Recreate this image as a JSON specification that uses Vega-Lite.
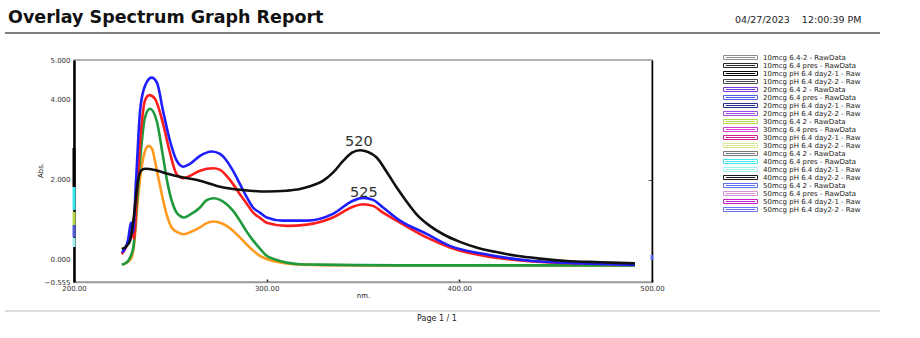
{
  "$schema": "https://vega.github.io/schema/vega-lite/v6.json",
  "width": 578,
  "height": 222,
  "autosize": {"type": "none"},
  "padding": {"left": 74, "top": 60, "right": 268, "bottom": 56},
  "background": "white",
  "config": {
    "font": "DejaVu Sans",
    "view": {"stroke": "#9a9a9a", "strokeWidth": 1.5}
  },
  "title": {
    "text": "Overlay Spectrum Graph Report",
    "anchor": "start",
    "frame": "group",
    "offset": 0,
    "dx": -66,
    "dy": 12,
    "font": "DejaVu Sans",
    "fontSize": 17.5,
    "fontWeight": "bold",
    "color": "#111111"
  },
  "datasets": {
    "spectra": [
      {"series": "Orange", "nm": 225.6, "abs": -0.11},
      {"series": "Orange", "nm": 228.0, "abs": -0.05},
      {"series": "Orange", "nm": 229.9, "abs": 0.06},
      {"series": "Orange", "nm": 231.1, "abs": 0.35},
      {"series": "Orange", "nm": 233.4, "abs": 1.64},
      {"series": "Orange", "nm": 236.0, "abs": 2.56},
      {"series": "Orange", "nm": 238.6, "abs": 2.85},
      {"series": "Orange", "nm": 240.5, "abs": 2.78},
      {"series": "Orange", "nm": 242.0, "abs": 2.48},
      {"series": "Orange", "nm": 244.1, "abs": 1.98},
      {"series": "Orange", "nm": 246.3, "abs": 1.48},
      {"series": "Orange", "nm": 248.3, "abs": 1.1},
      {"series": "Orange", "nm": 250.7, "abs": 0.81},
      {"series": "Orange", "nm": 254.1, "abs": 0.68},
      {"series": "Orange", "nm": 256.7, "abs": 0.64},
      {"series": "Orange", "nm": 260.2, "abs": 0.69},
      {"series": "Orange", "nm": 265.4, "abs": 0.81},
      {"series": "Orange", "nm": 268.5, "abs": 0.91},
      {"series": "Orange", "nm": 272.3, "abs": 0.96},
      {"series": "Orange", "nm": 275.8, "abs": 0.93},
      {"series": "Orange", "nm": 279.2, "abs": 0.85},
      {"series": "Orange", "nm": 282.5, "abs": 0.73},
      {"series": "Orange", "nm": 286.1, "abs": 0.56},
      {"series": "Orange", "nm": 289.3, "abs": 0.4},
      {"series": "Orange", "nm": 293.0, "abs": 0.23},
      {"series": "Orange", "nm": 296.5, "abs": 0.1},
      {"series": "Orange", "nm": 300.0, "abs": 0.02},
      {"series": "Orange", "nm": 310.4, "abs": -0.09},
      {"series": "Orange", "nm": 317.3, "abs": -0.12},
      {"series": "Orange", "nm": 343.2, "abs": -0.14},
      {"series": "Orange", "nm": 421.1, "abs": -0.14},
      {"series": "Orange", "nm": 491.1, "abs": -0.14},

      {"series": "Green", "nm": 224.8, "abs": -0.12},
      {"series": "Green", "nm": 227.0, "abs": -0.08},
      {"series": "Green", "nm": 229.1, "abs": 0.06},
      {"series": "Green", "nm": 230.8, "abs": 0.31},
      {"series": "Green", "nm": 232.2, "abs": 1.1},
      {"series": "Green", "nm": 234.3, "abs": 2.48},
      {"series": "Green", "nm": 236.8, "abs": 3.56},
      {"series": "Green", "nm": 239.4, "abs": 3.78},
      {"series": "Green", "nm": 242.9, "abs": 3.48},
      {"series": "Green", "nm": 246.3, "abs": 2.56},
      {"series": "Green", "nm": 248.3, "abs": 1.98},
      {"series": "Green", "nm": 250.7, "abs": 1.48},
      {"series": "Green", "nm": 253.0, "abs": 1.2},
      {"series": "Green", "nm": 255.0, "abs": 1.1},
      {"series": "Green", "nm": 257.1, "abs": 1.06},
      {"series": "Green", "nm": 260.2, "abs": 1.13},
      {"series": "Green", "nm": 265.4, "abs": 1.31},
      {"series": "Green", "nm": 268.5, "abs": 1.48},
      {"series": "Green", "nm": 272.3, "abs": 1.54},
      {"series": "Green", "nm": 275.8, "abs": 1.5},
      {"series": "Green", "nm": 279.2, "abs": 1.39},
      {"series": "Green", "nm": 282.5, "abs": 1.23},
      {"series": "Green", "nm": 286.1, "abs": 0.98},
      {"series": "Green", "nm": 289.3, "abs": 0.73},
      {"series": "Green", "nm": 293.0, "abs": 0.48},
      {"series": "Green", "nm": 296.5, "abs": 0.28},
      {"series": "Green", "nm": 300.0, "abs": 0.1},
      {"series": "Green", "nm": 304.8, "abs": 0.0},
      {"series": "Green", "nm": 310.4, "abs": -0.07},
      {"series": "Green", "nm": 317.3, "abs": -0.11},
      {"series": "Green", "nm": 325.9, "abs": -0.12},
      {"series": "Green", "nm": 369.2, "abs": -0.14},
      {"series": "Green", "nm": 421.1, "abs": -0.14},
      {"series": "Green", "nm": 491.1, "abs": -0.14},

      {"series": "Red", "nm": 224.8, "abs": 0.14},
      {"series": "Red", "nm": 228.0, "abs": 0.43},
      {"series": "Red", "nm": 229.9, "abs": 0.78},
      {"series": "Red", "nm": 231.1, "abs": 0.53},
      {"series": "Red", "nm": 232.7, "abs": 1.73},
      {"series": "Red", "nm": 234.8, "abs": 3.23},
      {"series": "Red", "nm": 236.8, "abs": 3.98},
      {"series": "Red", "nm": 239.1, "abs": 4.12},
      {"series": "Red", "nm": 242.0, "abs": 4.03},
      {"series": "Red", "nm": 246.3, "abs": 3.39},
      {"series": "Red", "nm": 249.8, "abs": 2.68},
      {"series": "Red", "nm": 253.3, "abs": 2.14},
      {"series": "Red", "nm": 256.7, "abs": 2.04},
      {"series": "Red", "nm": 260.2, "abs": 2.1},
      {"series": "Red", "nm": 265.4, "abs": 2.23},
      {"series": "Red", "nm": 272.3, "abs": 2.29},
      {"series": "Red", "nm": 275.8, "abs": 2.25},
      {"series": "Red", "nm": 279.2, "abs": 2.1},
      {"series": "Red", "nm": 282.5, "abs": 1.9},
      {"series": "Red", "nm": 286.1, "abs": 1.64},
      {"series": "Red", "nm": 289.3, "abs": 1.43},
      {"series": "Red", "nm": 293.0, "abs": 1.18},
      {"series": "Red", "nm": 296.5, "abs": 1.05},
      {"series": "Red", "nm": 300.0, "abs": 0.93},
      {"series": "Red", "nm": 310.4, "abs": 0.85},
      {"series": "Red", "nm": 320.8, "abs": 0.88},
      {"series": "Red", "nm": 334.4, "abs": 1.06},
      {"series": "Red", "nm": 344.9, "abs": 1.33},
      {"series": "Red", "nm": 350.1, "abs": 1.39},
      {"series": "Red", "nm": 355.2, "abs": 1.35},
      {"series": "Red", "nm": 360.4, "abs": 1.18},
      {"series": "Red", "nm": 369.2, "abs": 0.93},
      {"series": "Red", "nm": 383.0, "abs": 0.56},
      {"series": "Red", "nm": 395.1, "abs": 0.31},
      {"series": "Red", "nm": 412.4, "abs": 0.1},
      {"series": "Red", "nm": 438.2, "abs": -0.04},
      {"series": "Red", "nm": 464.1, "abs": -0.09},
      {"series": "Red", "nm": 491.1, "abs": -0.11},

      {"series": "Blue", "nm": 224.9, "abs": 0.18},
      {"series": "Blue", "nm": 228.0, "abs": 0.48},
      {"series": "Blue", "nm": 229.6, "abs": 0.93},
      {"series": "Blue", "nm": 230.6, "abs": 0.68},
      {"series": "Blue", "nm": 232.2, "abs": 1.98},
      {"series": "Blue", "nm": 234.3, "abs": 3.73},
      {"series": "Blue", "nm": 236.8, "abs": 4.35},
      {"series": "Blue", "nm": 240.3, "abs": 4.56},
      {"series": "Blue", "nm": 243.1, "abs": 4.43},
      {"series": "Blue", "nm": 246.2, "abs": 3.73},
      {"series": "Blue", "nm": 249.8, "abs": 2.98},
      {"series": "Blue", "nm": 253.3, "abs": 2.48},
      {"series": "Blue", "nm": 256.7, "abs": 2.33},
      {"series": "Blue", "nm": 260.2, "abs": 2.4},
      {"series": "Blue", "nm": 265.4, "abs": 2.6},
      {"series": "Blue", "nm": 271.5, "abs": 2.71},
      {"series": "Blue", "nm": 275.8, "abs": 2.65},
      {"series": "Blue", "nm": 279.2, "abs": 2.48},
      {"series": "Blue", "nm": 282.5, "abs": 2.23},
      {"series": "Blue", "nm": 286.1, "abs": 1.9},
      {"series": "Blue", "nm": 289.3, "abs": 1.6},
      {"series": "Blue", "nm": 292.9, "abs": 1.31},
      {"series": "Blue", "nm": 296.5, "abs": 1.18},
      {"series": "Blue", "nm": 300.0, "abs": 1.06},
      {"series": "Blue", "nm": 308.5, "abs": 0.98},
      {"series": "Blue", "nm": 320.8, "abs": 0.98},
      {"series": "Blue", "nm": 334.4, "abs": 1.15},
      {"series": "Blue", "nm": 344.8, "abs": 1.48},
      {"series": "Blue", "nm": 350.0, "abs": 1.55},
      {"series": "Blue", "nm": 355.2, "abs": 1.5},
      {"series": "Blue", "nm": 360.4, "abs": 1.31},
      {"series": "Blue", "nm": 369.2, "abs": 0.98},
      {"series": "Blue", "nm": 383.0, "abs": 0.65},
      {"series": "Blue", "nm": 395.1, "abs": 0.35},
      {"series": "Blue", "nm": 412.2, "abs": 0.15},
      {"series": "Blue", "nm": 438.2, "abs": -0.03},
      {"series": "Blue", "nm": 464.1, "abs": -0.09},
      {"series": "Blue", "nm": 491.1, "abs": -0.13},

      {"series": "Black", "nm": 224.8, "abs": 0.27},
      {"series": "Black", "nm": 227.0, "abs": 0.33},
      {"series": "Black", "nm": 229.1, "abs": 0.48},
      {"series": "Black", "nm": 231.1, "abs": 1.1},
      {"series": "Black", "nm": 233.2, "abs": 1.98},
      {"series": "Black", "nm": 234.8, "abs": 2.23},
      {"series": "Black", "nm": 236.8, "abs": 2.28},
      {"series": "Black", "nm": 242.0, "abs": 2.25},
      {"series": "Black", "nm": 248.1, "abs": 2.16},
      {"series": "Black", "nm": 256.7, "abs": 2.06},
      {"series": "Black", "nm": 265.4, "abs": 1.98},
      {"series": "Black", "nm": 274.1, "abs": 1.85},
      {"series": "Black", "nm": 282.7, "abs": 1.77},
      {"series": "Black", "nm": 291.3, "abs": 1.73},
      {"series": "Black", "nm": 300.0, "abs": 1.71},
      {"series": "Black", "nm": 310.4, "abs": 1.73},
      {"series": "Black", "nm": 317.3, "abs": 1.77},
      {"series": "Black", "nm": 322.5, "abs": 1.84},
      {"series": "Black", "nm": 329.4, "abs": 1.98},
      {"series": "Black", "nm": 334.4, "abs": 2.18},
      {"series": "Black", "nm": 339.8, "abs": 2.48},
      {"series": "Black", "nm": 344.3, "abs": 2.68},
      {"series": "Black", "nm": 348.4, "abs": 2.74},
      {"series": "Black", "nm": 352.6, "abs": 2.7},
      {"series": "Black", "nm": 357.1, "abs": 2.56},
      {"series": "Black", "nm": 361.9, "abs": 2.23},
      {"series": "Black", "nm": 367.5, "abs": 1.81},
      {"series": "Black", "nm": 372.3, "abs": 1.48},
      {"series": "Black", "nm": 377.8, "abs": 1.14},
      {"series": "Black", "nm": 384.7, "abs": 0.85},
      {"series": "Black", "nm": 391.6, "abs": 0.64},
      {"series": "Black", "nm": 400.3, "abs": 0.45},
      {"series": "Black", "nm": 408.9, "abs": 0.31},
      {"series": "Black", "nm": 418.5, "abs": 0.2},
      {"series": "Black", "nm": 429.7, "abs": 0.1},
      {"series": "Black", "nm": 441.8, "abs": 0.03},
      {"series": "Black", "nm": 455.7, "abs": -0.03},
      {"series": "Black", "nm": 473.0, "abs": -0.06},
      {"series": "Black", "nm": 491.1, "abs": -0.09}
    ],
    "offscale": [
      {"sample": "10mcg pH 6.4 day2-1 - Raw", "nm": 200, "abs": 2.8, "abs2": 1.82},
      {"sample": "40mcg 6.4 pres - RawData", "nm": 200, "abs": 1.82, "abs2": 1.25},
      {"sample": "30mcg 6.4 2 - RawData", "nm": 200, "abs": 1.2, "abs2": 0.87},
      {"sample": "20mcg 6.4 pres - RawData", "nm": 200, "abs": 0.87, "abs2": 0.57},
      {"sample": "40mcg pH 6.4 day2-1 - Raw", "nm": 200, "abs": 0.55, "abs2": 0.32},
      {"sample": "50mcg 6.4 2 - RawData", "nm": 500, "abs": 0.12, "abs2": 0.0}
    ],
    "peaks": [
      {"label": "520", "nm": 347.9, "abs": 2.85},
      {"label": "525", "nm": 350.5, "abs": 1.57}
    ]
  },
  "resolve": {
    "scale": {"color": "independent"},
    "legend": {"color": "independent"},
    "axis": {"y": "independent"}
  },
  "layer": [
    {
      "data": {"name": "offscale"},
      "mark": {"type": "rule", "strokeWidth": 3, "clip": false},
      "encoding": {
        "x": {
          "field": "nm",
          "type": "quantitative",
          "scale": {"domain": [200, 500], "nice": false, "zero": false},
          "axis": {
            "title": "nm.",
            "values": [200, 300, 400, 500],
            "format": ".2f",
            "labelFlush": false,
            "labelOverlap": false,
            "labelFontSize": 7,
            "labelColor": "#333333",
            "labelPadding": 5,
            "domainColor": "#9a9a9a",
            "domainWidth": 1.5,
            "tickSize": -3,
            "tickColor": "#222222",
            "tickWidth": 1.5,
            "grid": false,
            "titleFontSize": 7,
            "titleFontWeight": "normal",
            "titleColor": "#222222",
            "titleBaseline": "top",
            "titleY": 9
          }
        },
        "y": {
          "field": "abs",
          "type": "quantitative",
          "scale": {"domain": [-0.555, 5], "nice": false, "zero": false},
          "axis": {
            "orient": "left",
            "title": "Abs.",
            "values": [-0.555, 0, 2, 4, 5],
            "format": ".3f",
            "labelFlush": false,
            "labelOverlap": false,
            "labelFontSize": 7,
            "labelColor": "#333333",
            "labelPadding": 4,
            "domainColor": "#000000",
            "domainWidth": 2.5,
            "ticks": false,
            "grid": false,
            "titleFontSize": 7,
            "titleFontWeight": "normal",
            "titleColor": "#222222",
            "titleX": -31,
            "titleY": 110
          }
        },
        "y2": {"field": "abs2"},
        "color": {
          "field": "sample",
          "type": "nominal",
          "scale": {
            "domain": [
              "10mcg 6.4-2 - RawData",
              "10mcg 6.4 pres - RawData",
              "10mcg pH 6.4 day2-1 - Raw",
              "10mcg pH 6.4 day2-2 - Raw",
              "20mcg 6.4 2 - RawData",
              "20mcg 6.4 pres - RawData",
              "20mcg pH 6.4 day2-1 - Raw",
              "20mcg pH 6.4 day2-2 - Raw",
              "30mcg 6.4 2 - RawData",
              "30mcg 6.4 pres - RawData",
              "30mcg pH 6.4 day2-1 - Raw",
              "30mcg pH 6.4 day2-2 - Raw",
              "40mcg 6.4 2 - RawData",
              "40mcg 6.4 pres - RawData",
              "40mcg pH 6.4 day2-1 - Raw",
              "40mcg pH 6.4 day2-2 - Raw",
              "50mcg 6.4 2 - RawData",
              "50mcg 6.4 pres - RawData",
              "50mcg pH 6.4 day2-1 - Raw",
              "50mcg pH 6.4 day2-2 - Raw"
            ],
            "range": [
              "#8c8c8c", "#2a2a2a", "#000000", "#4a4a4a",
              "#7a3ad8", "#4f5fe0", "#2b2f8f", "#9a4ae0",
              "#b8d84a", "#d63cd6", "#d01e8e", "#d9e98e",
              "#7a7a7a", "#3ee8f0", "#9ef2f2", "#151515",
              "#5a6ef0", "#d98ed9", "#c81ec8", "#6a74f0"
            ]
          },
          "legend": {
            "orient": "none",
            "legendX": 663,
            "legendY": -6,
            "title": null,
            "symbolType": "M-5.667,-0.667H5.667V0.667H-5.667Z M-4.9,0H4.9",
            "symbolSize": 36,
            "symbolStrokeWidth": 1,
            "labelFontSize": 7,
            "labelColor": "#222222",
            "labelOffset": 19,
            "labelLimit": 200,
            "rowPadding": -1,
            "padding": 0,
            "encode": {
              "symbols": {
                "update": {
                  "fill": {"value": "white"},
                  "fillOpacity": {"value": 1},
                  "opacity": {"value": 1},
                  "strokeWidth": {"value": 1}
                }
              }
            }
          }
        }
      }
    },
    {
      "data": {"name": "spectra"},
      "mark": {"type": "line", "strokeWidth": 2.6, "interpolate": "monotone", "strokeJoin": "round"},
      "encoding": {
        "x": {"field": "nm", "type": "quantitative"},
        "y": {
          "field": "abs",
          "type": "quantitative",
          "axis": {
            "orient": "right",
            "title": null,
            "values": [2],
            "labels": false,
            "domainColor": "#000000",
            "domainWidth": 1.5,
            "tickSize": -4,
            "tickColor": "#555555",
            "grid": false
          }
        },
        "color": {
          "field": "series",
          "type": "nominal",
          "scale": {
            "domain": ["Orange", "Green", "Red", "Blue", "Black"],
            "range": ["#ff9a1e", "#1e9a3c", "#ff1e1e", "#1e1eff", "#111111"]
          },
          "legend": null
        }
      }
    },
    {
      "data": {"name": "peaks"},
      "mark": {"type": "text", "fontSize": 14.5, "font": "DejaVu Sans", "color": "#333333", "baseline": "alphabetic", "align": "center"},
      "encoding": {
        "x": {"field": "nm", "type": "quantitative"},
        "y": {"field": "abs", "type": "quantitative", "axis": null},
        "text": {"field": "label", "type": "nominal"}
      }
    },
    {
      "data": {"values": [{}]},
      "mark": {"type": "rule", "color": "#555555", "strokeWidth": 1.5, "clip": false},
      "encoding": {
        "x": {"datum": 164.2, "type": "quantitative"},
        "x2": {"datum": 618.3},
        "y": {"datum": 5.676, "type": "quantitative", "axis": null}
      }
    },
    {
      "data": {"values": [{}]},
      "mark": {"type": "text", "text": "04/27/2023\u00a0\u00a0\u00a0 12:00:39 PM", "fontSize": 9.5, "font": "DejaVu Sans", "color": "#222222", "align": "left", "baseline": "alphabetic", "clip": false},
      "encoding": {
        "x": {"datum": 543.1, "type": "quantitative"},
        "y": {"datum": 5.926, "type": "quantitative", "axis": null}
      }
    },
    {
      "data": {"values": [{}]},
      "mark": {"type": "rule", "color": "#d0d0d0", "strokeWidth": 1.5, "clip": false},
      "encoding": {
        "x": {"datum": 164.2, "type": "quantitative"},
        "x2": {"datum": 618.3},
        "y": {"datum": -1.281, "type": "quantitative", "axis": null}
      }
    },
    {
      "data": {"values": [{}]},
      "mark": {"type": "text", "text": "Page 1 / 1", "fontSize": 8, "font": "DejaVu Sans", "color": "#222222", "align": "center", "baseline": "alphabetic", "clip": false},
      "encoding": {
        "x": {"datum": 388.4, "type": "quantitative"},
        "y": {"datum": -1.53, "type": "quantitative", "axis": null}
      }
    }
  ]
}
